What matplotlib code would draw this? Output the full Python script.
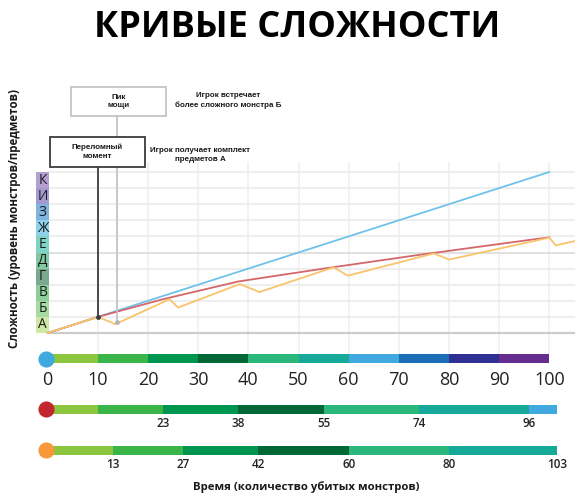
import matplotlib
matplotlib.use("Agg")
import matplotlib.pyplot as plt
from matplotlib.patches import Rectangle
from matplotlib import font_manager as fm

# ---------------- data ----------------
level_letters = ['А', 'Б', 'В', 'Г', 'Д', 'Е', 'Ж', 'З', 'И', 'К']
level_colors = ['#cfe8a6', '#a6dba2', '#8dcf9b', '#7aa98f', '#80c9a2',
                '#7fd3c5', '#8dd2ea', '#80b4dd', '#a29ad0', '#b59fd0']

blue_x = [0, 100]
blue_y = [0, 10]
red_x = [0, 10, 23, 38, 55, 74, 96, 100]
red_y = [0, 1, 2.1, 3.2, 4.0, 4.85, 5.78, 5.94]
orange_x = [0, 10, 13.5, 24.3, 26, 38.3, 42.2, 57, 59.8, 77, 80, 100, 101.3, 105.2]
orange_y = [0, 1, 0.55, 2.1, 1.58, 3.04, 2.54, 4.08, 3.56, 4.94, 4.56, 5.92, 5.44, 5.72]

seg_colors = ['#8cc63f', '#39b54a', '#00964f', '#006837', '#2bb67b',
              '#16a99a', '#3fa9e0', '#1c6fb7', '#2e3192', '#662d91']
blue_edges = [0, 10, 20, 30, 40, 50, 60, 70, 80, 90]
blue_end = 100
blue_labels = [0, 10, 20, 30, 40, 50, 60, 70, 80, 90, 100]
red_edges = [0, 10, 23, 38, 55, 74, 96]
red_labels = [23, 38, 55, 74, 96]
orange_edges = [0, 13, 27, 42, 60, 80]
orange_labels = [13, 27, 42, 60, 80, 103]
bar_end = 101.5

title = 'КРИВЫЕ СЛОЖНОСТИ'
ylabel = 'Сложность (уровень монстров/предметов)'
xlabel = 'Время (количество убитых монстров)'

# ---------------- fonts ----------------
names = {f.name for f in fm.fontManager.ttflist}
MAIN = 'Open Sans' if 'Open Sans' in names else 'DejaVu Sans'
NARROW = 'Liberation Sans Narrow' if 'Liberation Sans Narrow' in names else 'Liberation Sans'

W, H = 575, 499
fig = plt.figure(figsize=(W / 100, H / 100), dpi=100)
fig.patch.set_facecolor('white')

XL = (-9.51, 105.12)

# ---------------- main chart ----------------
top_px, bot_px = 160, 354
ax = fig.add_axes([0, 1 - bot_px / H, 1, (bot_px - top_px) / H])
ax.set_xlim(*XL)
ax.set_ylim((333 - bot_px) / 16.1, (333 - top_px) / 16.1)
ax.axis('off')

for lv in range(1, 11):
    ax.hlines(lv, 0.3, XL[1], color='#dcdcdc' if lv == 5 else '#ebebeb', lw=1.2, zorder=1)
ax.hlines(0, 0.3, XL[1], color='#cccccc', lw=1.6, zorder=1)
ax.vlines(range(10, 101, 10), ax.get_ylim()[0], 10.62, color='#efefef', lw=1.1, zorder=0.5)

for i, (lt, c) in enumerate(zip(level_letters, level_colors)):
    ax.bar(-1.0, 1, bottom=i, width=2.65, color=c, zorder=2)
    ax.text(-1.0, i + 0.5, lt, ha='center', va='center', fontsize=9.8,
            family=MAIN, color='#1a1a1a', zorder=3)

ax.plot(blue_x, blue_y, color='#6fc2e8', lw=1.3, zorder=4)
ax.plot(red_x, red_y, color='#d4676b', lw=1.3, zorder=5)
ax.plot(orange_x, orange_y, color='#f9c46b', lw=1.3, zorder=6, clip_on=False)

# ---------------- annotation overlay (pixel layout) ----------------
ann = fig.add_axes([0, 0, 1, 1])
ann.set_xlim(0, W)
ann.set_ylim(H, 0)
ann.axis('off')
ann.patch.set_alpha(0)


def to_ann(axes, x, y):
    disp = axes.transData.transform((x, y))
    return ann.transData.inverted().transform(disp)


# turning point (10, 1) and power peak (orange dip after 10)
tp = to_ann(ax, red_x[1], red_y[1])
pk = to_ann(ax, orange_x[2], orange_y[2])

ann.plot([117.3, 117.3], [115.7, pk[1] - 2], color='#c4c4c4', lw=1.3, zorder=2)
ann.plot([117.3], [pk[1] - 2], 'o', color='#b5b5b5', ms=2.5, zorder=2)
ann.plot([98.3, 98.3], [167.3, tp[1]], color='#3c3c3c', lw=1.3, zorder=3)
ann.plot([98.3], [tp[1]], 'o', color='#3c3c3c', ms=2.5, zorder=3)

ann.add_patch(Rectangle((70.7, 87.3), 95.3, 28.4, facecolor='white',
                        edgecolor='#c4c4c4', lw=1.3, zorder=4))
ann.add_patch(Rectangle((50, 137.3), 95, 30, facecolor='white',
                        edgecolor='#3c3c3c', lw=1.3, zorder=4))

akw = dict(ha='center', va='center', fontsize=5.8, fontweight='bold',
           family=NARROW, color='#1a1a1a', linespacing=1.35, zorder=5)
ann.text(118.3, 101.5, 'Пик\nмощи', **akw)
ann.text(97.3, 152, 'Переломный\nмомент', **akw)
ann.text(228.3, 100.5, 'Игрок встречает\nболее сложного монстра Б', **akw)
ann.text(200, 155.3, 'Игрок получает комплект\nпредметов А', **akw)

ann.text(297, 28, title, ha='center', va='center', fontsize=26,
         fontweight='bold', family=MAIN, color='black')
ann.text(15, 218, ylabel, ha='center', va='center', rotation=90,
         fontsize=8.3, fontweight='bold', family=MAIN, color='#1a1a1a')
ann.text(306, 487, xlabel, ha='center', va='center', fontsize=8.2,
         fontweight='bold', family=MAIN, color='#1a1a1a')

# ---------------- bottom progress bars ----------------
axb = fig.add_axes([0, 0, 1, 1])
axb.set_xlim(*XL)
axb.set_ylim(H, 0)
axb.axis('off')
axb.patch.set_alpha(0)

rows = [
    (358.6, '#3ea8df', blue_edges, blue_end, blue_labels, 380, 13, 'normal'),
    (409.3, '#c1272d', red_edges, bar_end, red_labels, 423.5, 8.4, 'semibold'),
    (450.2, '#f7983a', orange_edges, bar_end, orange_labels, 465, 8.4, 'semibold'),
]
for ry, cc, edges, end, labels, ly, fs, fw in rows:
    bounds = list(edges) + [end]
    for j in range(len(edges)):
        axb.barh(ry, bounds[j + 1] - bounds[j], left=bounds[j], height=8.8,
                 color=seg_colors[j], zorder=2)
    axb.scatter([-0.35], [ry], s=135, color=cc, zorder=3, linewidths=0)
    for v in labels:
        axb.text(min(v, end), ly, str(v), ha='center', va='center', fontsize=fs,
                 fontweight=fw, family=MAIN, color='#222222')

fig.savefig('out.png', dpi=100, facecolor='white')
